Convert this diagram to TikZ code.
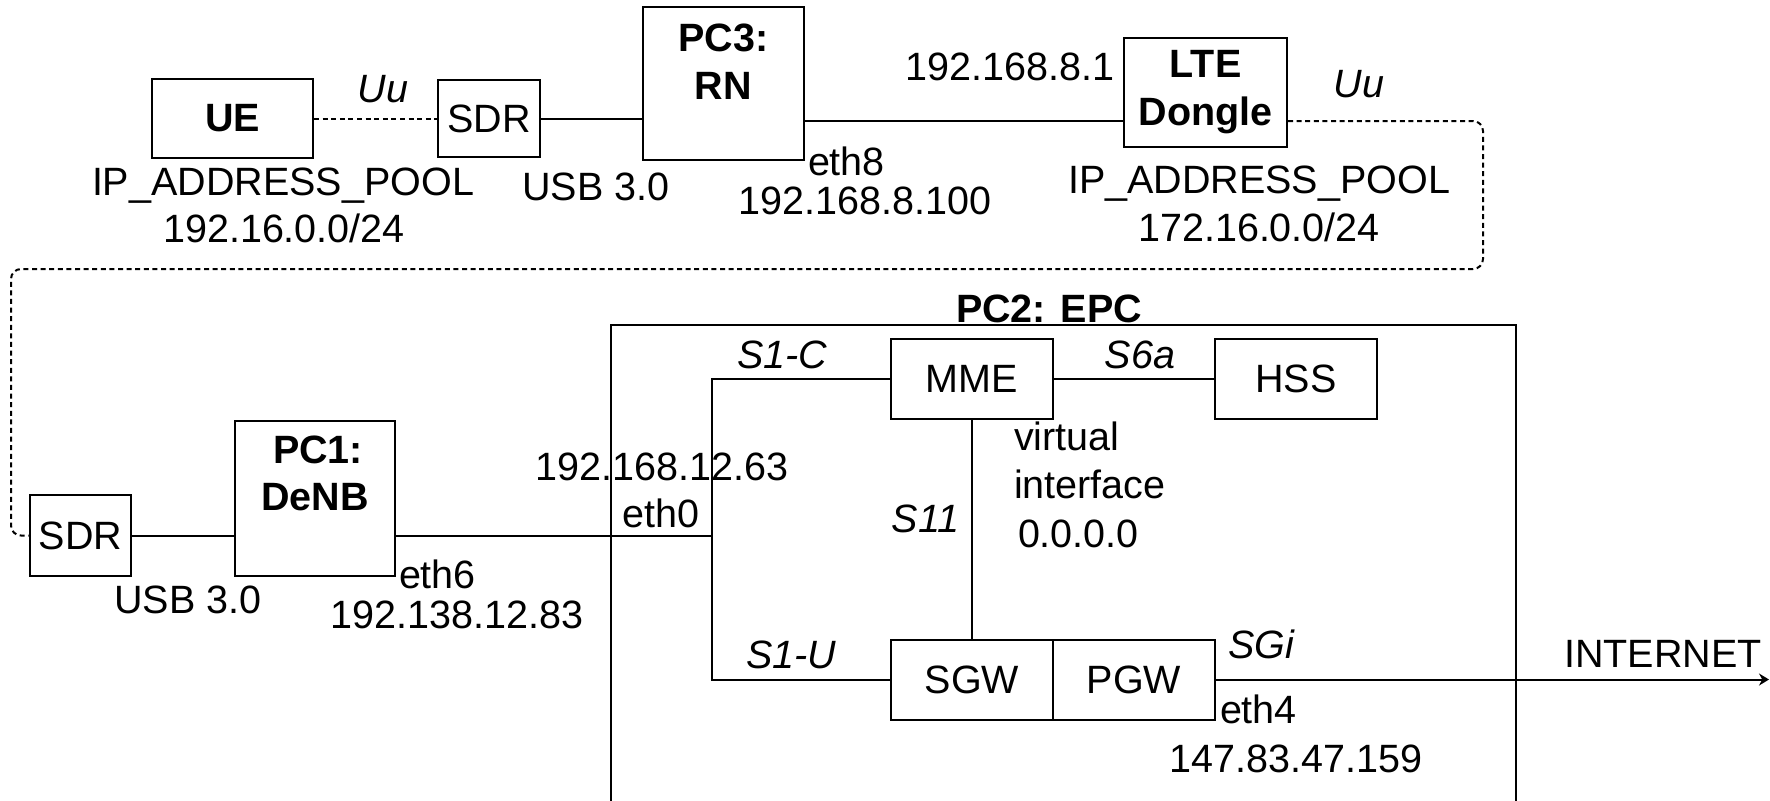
\documentclass[tikz,border=0pt]{standalone}
\usepackage{fontspec}
\setmainfont{Liberation Sans}
\usetikzlibrary{arrows.meta}
\newcommand\myfs{\fontsize{19.75pt}{24pt}\selectfont}
\begin{document}
\begin{tikzpicture}[x=0.5pt,y=-0.5pt, line width=1pt,
  box/.style={draw, line width=1pt, inner sep=0pt, align=center, font=\myfs},
  boldbox/.style={box, font=\myfs\bfseries},
  txt/.style={inner sep=0pt, anchor=base, font=\myfs},
  boldtxt/.style={txt, font=\myfs\bfseries},
  ittxt/.style={txt, font=\myfs\itshape},
  dotline/.style={dash pattern=on 2.5pt off 1.8pt},
  smallbox/.style={box, minimum width=81pt, minimum height=40pt},
]
\useasboundingbox (0,0) rectangle (1770,800);
\clip (0,0) rectangle (1770,800);

% ---- top row ----
\node[boldbox, minimum width=80.5pt, minimum height=39.5pt] (ue) at (232.5,118.5) {UE};
\node[box, minimum width=51pt, minimum height=38.5pt] (sdrA) at (489,118.5) {SDR};
\node[box, minimum width=80.5pt, minimum height=76.5pt] (pc3) at (723.5,83.5) {};
\node[boldtxt] (pc3a) at (723.5,51) {PC3:};
\node[boldtxt] (pc3b) at (723.5,99) {RN};
\node[boldbox, minimum width=81.5pt, minimum height=54.5pt] (lte) at (1205.5,92.5) {LTE\\Dongle};

% ---- bottom row ----
\node[box, minimum width=50.5pt, minimum height=40.5pt] (sdrB) at (80.5,535.5) {SDR};
\node[box, minimum width=80pt, minimum height=77.5pt] (pc1) at (315,498.5) {};
\node[boldtxt] (pc1a) at (318,463) {PC1:};
\node[boldtxt] (pc1b) at (315,510) {DeNB};

\node[box, minimum width=452.5pt, minimum height=260pt] (epc) at (1063.5,585) {};
\node[smallbox] (mme) at (972,379) {MME};
\node[smallbox] (hss) at (1296,379) {HSS};
\node[smallbox] (sgw) at (972,679.5) {SGW};
\node[smallbox] (pgw) at (1134,679.5) {PGW};

% ---- coordinates ----
\coordinate (y121) at (0,121);
\coordinate (c1) at (1483,121);
\coordinate (c2) at (1483,269);
\coordinate (c3) at (11,269);
\coordinate (c4) at (11,535.5);
\coordinate (bustop) at (712,379);
\coordinate (busmid) at (712,536);
\coordinate (busbot) at (712,679.5);
\coordinate (inet) at (1769,679.5);

% ---- connectors ----
\draw[dotline] (ue.east) -- (ue.east -| sdrA.west);
\draw (sdrA.east) -- (sdrA.east -| pc3.west);
\draw (pc3.east |- y121) -- (lte.west |- y121);
\draw[dotline, rounded corners=5pt] (lte.east |- y121) -- (c1) -- (c2) -- (c3) -- (c4) -- (sdrB.west);
\draw (sdrB.east) -- (sdrB.east -| pc1.west);
\draw (pc1.east |- busmid) -- (busmid);
\draw (mme.west) -- (bustop) -- (busbot) -- (sgw.west);
\draw (mme.east) -- (hss.west);
\draw (mme.south) -- (sgw.north);
\draw[-{Stealth[length=5pt,width=6pt]}] (pgw.east) -- (inet);

% ---- labels ----
\node[ittxt] (uu1) at (383,102) {Uu};
\node[ittxt] (uu2) at (1359,97) {Uu};
\node[txt] (pool1) at (283,195) {IP\_ADDRESS\_POOL};
\node[txt] (net1) at (284,242) {192.16.0.0/24};
\node[txt] (usb1) at (596,200) {USB 3.0};
\node[txt, anchor=base west] (eth8) at (807,175) {eth8};
\node[txt] (ip8100) at (865,214) {192.168.8.100};
\node[txt, anchor=base east] (ip81) at (1115,80) {192.168.8.1};
\node[txt] (pool2) at (1259,193) {IP\_ADDRESS\_POOL};
\node[txt] (net2) at (1259,241) {172.16.0.0/24};

\node[boldtxt] (epct) at (1049,322) {PC2: EPC};
\node[ittxt] (s1c) at (782,368) {S1-C};
\node[ittxt] (s6a) at (1140,368) {S6a};
\node[txt] (ip1263) at (662,480) {192.168.12.63};
\node[txt] (eth0) at (661,527) {eth0};
\node[txt, anchor=base west] (virt1) at (1013,450) {virtual};
\node[txt, anchor=base west] (virt2) at (1013,498) {interface};
\node[txt, anchor=base west] (virt3) at (1017,547) {0.0.0.0};
\node[ittxt, anchor=base east] (s11) at (960,532) {S11};
\node[txt] (usb2) at (188,613) {USB 3.0};
\node[txt, anchor=base west] (eth6) at (398,588) {eth6};
\node[txt] (ip1283) at (457,628) {192.138.12.83};
\node[ittxt] (s1u) at (791,668) {S1-U};
\node[ittxt, anchor=base west] (sgi) at (1227,658) {SGi};
\node[txt] (inett) at (1663,667) {INTERNET};
\node[txt, anchor=base west] (eth4) at (1219,723) {eth4};
\node[txt] (ip159) at (1296,772) {147.83.47.159};
\end{tikzpicture}
\end{document}
